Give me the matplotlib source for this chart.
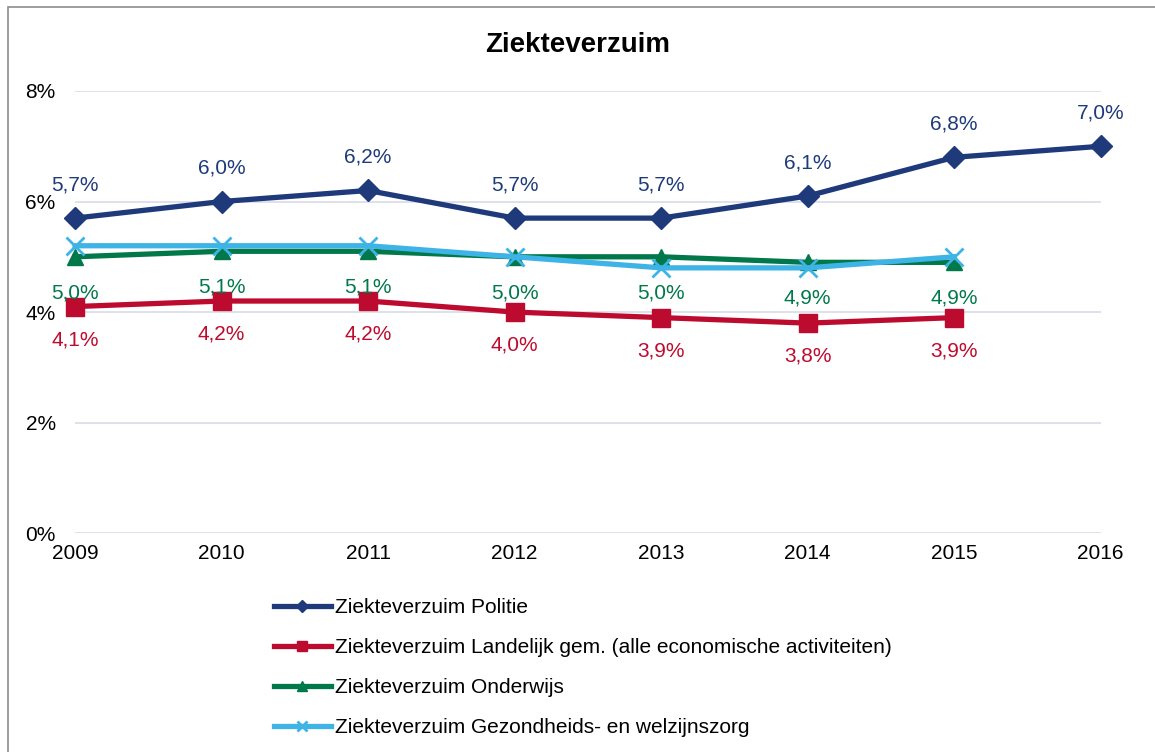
import matplotlib
matplotlib.use("Agg")
import matplotlib.pyplot as plt
from matplotlib.patches import Rectangle

plt.rcParams['font.family'] = ['Liberation Sans', 'DejaVu Sans']

years = [2009, 2010, 2011, 2012, 2013, 2014, 2015, 2016]
politie = [5.7, 6.0, 6.2, 5.7, 5.7, 6.1, 6.8, 7.0]
landelijk = [4.1, 4.2, 4.2, 4.0, 3.9, 3.8, 3.9]
onderwijs = [5.0, 5.1, 5.1, 5.0, 5.0, 4.9, 4.9]
gezondheid = [5.2, 5.2, 5.2, 5.0, 4.8, 4.8, 5.0]
yticks = [0, 2, 4, 6, 8]

c_pol = '#1f3a7a'
c_lan = '#bd0b2f'
c_ond = '#00784a'
c_gez = '#3db4e5'

fig = plt.figure(figsize=(11.55, 7.52), dpi=100)
ax = fig.add_axes([0.065, 0.291, 0.888, 0.588])

# outer chart frame
fig.patches.append(Rectangle((8/1155, -0.02), 1.02, 1 - 7/752 + 0.02, transform=fig.transFigure,
                             fill=False, edgecolor='#8c8c8c', linewidth=1.2))

lw = 3.8
ax.plot(years, politie, color=c_pol, lw=lw, marker='D', ms=11, label='Ziekteverzuim Politie',
        zorder=4, clip_on=False)
ax.plot(years[:7], landelijk, color=c_lan, lw=lw, marker='s', ms=13,
        label='Ziekteverzuim Landelijk gem. (alle economische activiteiten)', zorder=3, clip_on=False)
ax.plot(years[:7], onderwijs, color=c_ond, lw=lw, marker='^', ms=12, label='Ziekteverzuim Onderwijs',
        zorder=3, clip_on=False)
ax.plot(years[:7], gezondheid, color=c_gez, lw=lw, marker='x', ms=13, mew=2,
        label='Ziekteverzuim Gezondheids- en welzijnszorg', zorder=3, clip_on=False)

def fmt(v):
    return f'{v:.1f}%'.replace('.', ',')

for x, v in zip(years, politie):
    ax.annotate(fmt(v), (x, v), xytext=(0, 24), textcoords='offset points', ha='center', va='center',
                color=c_pol, fontsize=15)
for x, v in zip(years, landelijk):
    ax.annotate(fmt(v), (x, v), xytext=(0, -24), textcoords='offset points', ha='center', va='center',
                color=c_lan, fontsize=15)
for x, v in zip(years, onderwijs):
    ax.annotate(fmt(v), (x, v), xytext=(0, -26), textcoords='offset points', ha='center', va='center',
                color=c_ond, fontsize=15)

ax.set_xlim(2009, 2016)
ax.set_ylim(0, 8)
ax.set_yticks(yticks)
ax.set_yticklabels([f'{t}%' for t in yticks])
ax.set_xticks(years)
ax.tick_params(length=0, labelsize=15)
ax.tick_params(axis='y', pad=14)
ax.tick_params(axis='x', pad=8)
ax.grid(axis='y', color='#d9dce6', lw=1.2)
ax.set_axisbelow(True)
for s in ax.spines.values():
    s.set_visible(False)

fig.text(0.5, 1 - 45/752, 'Ziekteverzuim', ha='center', va='center', fontsize=20, fontweight='bold')

leg = fig.legend(loc='upper left', bbox_to_anchor=(266/1155, 1 - 590/752), frameon=False,
                 fontsize=15, handlelength=2.7, handletextpad=0.2, labelspacing=1.0,
                 markerscale=0.55, borderaxespad=0)

fig.savefig('out.png', dpi=100)
